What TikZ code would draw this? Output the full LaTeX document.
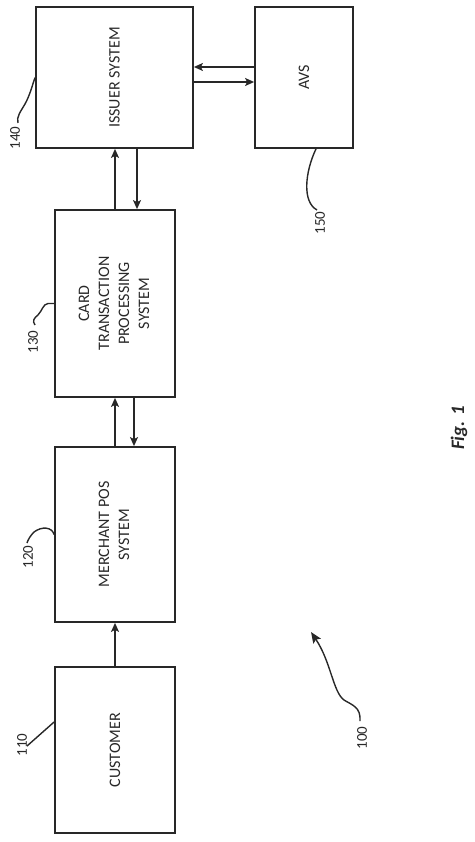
\documentclass[tikz,border=0pt]{standalone}
\usepackage{fontspec}
\setmainfont{Carlito}
\usetikzlibrary{calc,arrows.meta}
\definecolor{ink}{RGB}{40,40,40}
\tikzset{
  box/.style={draw=ink, line width=1.8pt, minimum width=#1, inner sep=0pt, align=center, font=\fontsize{16}{20}\selectfont, text=ink},
  flow/.style={draw=ink, line width=1.5pt, -{Stealth[length=9pt,width=8pt,inset=2pt]}},
  leader/.style={draw=ink, line width=1.4pt},
  refnum/.style={rotate=90, font=\fontsize{15}{18}\selectfont, text=ink, inner sep=0pt},
  figlabel/.style={rotate=90, font=\fontsize{19}{23}\selectfont\bfseries\itshape, text=ink, inner sep=0pt}
}
\begin{document}
\begin{tikzpicture}[x=1pt,y=-1pt]
\useasboundingbox (0,0) rectangle (474,842);
% boxes
\node[box=157pt, minimum height=141pt] (issuer) at (114.5,77.5) {\rotatebox{90}{ISSUER SYSTEM}};
\node[box=98pt, minimum height=141pt] (avs) at (304,77.5) {\rotatebox{90}{AVS}};
\node[box=120pt, minimum height=187pt] (card) at (115,303.5) {\rotatebox{90}{\begin{tabular}{@{}c@{}}CARD\\TRANSACTION\\PROCESSING\\SYSTEM\end{tabular}}};
\node[box=120pt, minimum height=175pt] (merchant) at (115,534.5) {\rotatebox{90}{\begin{tabular}{@{}c@{}}MERCHANT POS\\SYSTEM\end{tabular}}};
\node[box=120pt, minimum height=166pt] (customer) at (115,750) {\rotatebox{90}{CUSTOMER}};
% flow arrows
\draw[flow] ($(avs.west)+(0,-10.5)$) -- ($(issuer.east)+(0,-10.5)$);
\draw[flow] ($(issuer.east)+(0,4.5)$) -- ($(avs.west)+(0,4.5)$);
\draw[flow] (card.north) -- (card.north |- issuer.south);
\draw[flow] ($(issuer.south)+(22.5,0)$) -- ($(card.north)+(22,0)$);
\draw[flow] (merchant.north) -- (card.south);
\draw[flow] ($(card.south)+(19,0)$) -- ($(merchant.north)+(19,0)$);
\draw[flow] (customer.north) -- (merchant.south);
% reference labels
\node[refnum] (n140) at (15,138) {140};
\node[refnum] (n150) at (320,223) {150};
\node[refnum] (n130) at (33,342) {130};
\node[refnum] (n120) at (28,557) {120};
\node[refnum] (n110) at (22,745) {110};
\node[refnum] (n100) at (362,738) {100};
\node[figlabel] (fig) at (459,428) {Fig. 1};
% leader ends
\coordinate (e140) at (18,123);
\coordinate (e150) at (317,210);
\coordinate (e130) at (35,325);
\coordinate (e120) at (27,543);
\coordinate (e110) at (27,746);
\coordinate (s100) at (360,721);
\coordinate (t100) at (311,632);
% leaders
\draw[leader] (issuer.west) .. controls (32,86) and (30,95) .. (25,104) .. controls (21,111) and (16,117) .. (e140);
\draw[leader] ($(avs.south)+(12,0)$) .. controls (305,172) and (302,202) .. (e150);
\draw[leader] (card.west) -- (48,303.5) .. controls (43,304) and (42,311) .. (38,315) .. controls (34,318) and (32,321) .. (e130);
\draw[leader] (merchant.west) .. controls (52,527) and (42,526) .. (34,532) .. controls (30,536) and (28,540) .. (e120);
\draw[leader] ($(customer.west)+(0,-28)$) -- (e110);
\draw[leader, -{Stealth[length=11pt,width=9pt,inset=2pt]}] (s100) .. controls (361,707) and (352,705) .. (344,700) .. controls (333,692) and (331,662) .. (t100);
\end{tikzpicture}
\end{document}
